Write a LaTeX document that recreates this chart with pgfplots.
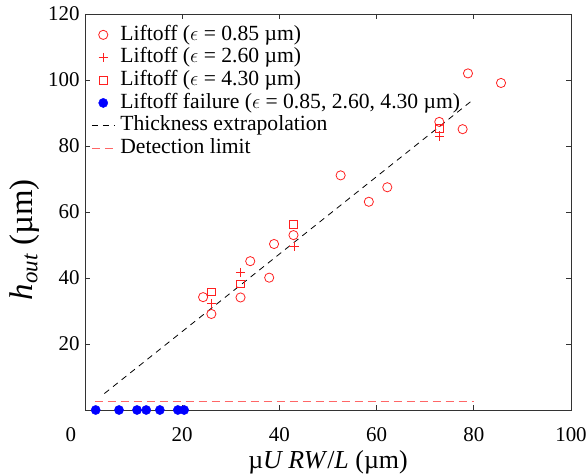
\documentclass[border=0pt]{standalone}
\usepackage{pgfplots}
\pgfplotsset{compat=1.18}
\usepackage{fontspec}
\setmainfont{Liberation Serif}
\definecolor{mred}{HTML}{FF2020}
\definecolor{detred}{rgb}{1,0.4,0.4}
\begin{document}
\begin{tikzpicture}
\begin{axis}[
  name=ax,
  scale only axis,
  width=486bp, height=396bp,
  xmin=0, xmax=100, ymin=0, ymax=120,
  xtick={0,20,...,100},
  xticklabels={\makebox[0pt][r]{0\hspace{9bp}},20,40,60,80,100},
  ytick={20,40,...,120},
  tick align=inside,
  major tick length=5bp,
  axis line style={line width=0.9pt, black!80},
  every tick/.style={line width=0.8pt, black!80},
  /pgf/number format/assume math mode=true,
  tick label style={font=\fontsize{21}{24}\selectfont},
  xticklabel style={inner sep=0.5bp, yshift=-17bp},
  yticklabel style={xshift=-2bp},
  xlabel={µ\textit{U RW}/\textit{L} (µm)},
  ylabel={\textit{h}\raisebox{-0.3ex}{\fontsize{23}{23}\selectfont\textit{out}} (µm)},
  xlabel style={font=\fontsize{26}{28}\selectfont, at={(axis description cs:0.5,-0.1465)}, anchor=base, inner sep=0pt},
  ylabel style={font=\fontsize{33}{34}\selectfont, at={(axis description cs:-0.1235,0.43)}, anchor=center},
  clip=false,
  legend cell align=left,
  legend style={draw=none, fill=none, at={(axis description cs:0.0123,0.975)}, anchor=north west,
    font=\fontsize{21.7}{23}\selectfont, row sep=1.2bp, column sep=4bp, inner sep=0pt,
    nodes={text height=15bp, text depth=4.5bp, inner sep=1bp}},
  legend image code/.code={\draw[mark repeat=2,mark phase=2,#1] plot coordinates {(0cm,0cm)(0.4cm,0cm)(0.8cm,0cm)};},
]
% eps = 0.85
\addplot[only marks, mark=o, mark size=4.6bp, draw=mred, line width=0.8pt, mark options={solid, draw=mred, fill=none}] coordinates {
(78.8,102.0) (85.6,99.1) (77.7,85.1) (72.9,87.3)
(52.6,71.1) (62.2,67.5) (58.4,63.1)
(42.9,53.0) (38.9,50.3) (34.0,45.1) (37.9,40.1) (32.0,34.1)
(24.3,34.2) (26.0,29.1)
};
\addlegendentry{Liftoff ($\epsilon$ = 0.85 µm)}
% eps = 2.60
\addplot[only marks, mark=+, mark size=4.6bp, draw=mred, line width=0.9pt, mark options={solid, draw=mred}] coordinates {
(73.0,83.0) (43.0,49.5) (32.0,41.7) (26.1,32.3)
};
\addlegendentry{Liftoff ($\epsilon$ = 2.60 µm)}
% eps = 4.30
\addplot[only marks, mark=square, mark size=3.9bp, draw=mred, line width=0.8pt, mark options={solid, draw=mred, fill=none}] coordinates {
(73.0,85.4) (42.9,56.2) (32.0,38.2) (26.0,35.8)
};
\addlegendentry{Liftoff ($\epsilon$ = 4.30 µm)}
% failures
\addplot[only marks, mark=*, mark size=4.6bp, draw=blue, mark options={solid, draw=blue, fill=blue}] coordinates {
(2.2,0) (7.0,0) (10.7,0) (12.6,0) (15.4,0) (19.1,0) (20.4,0)
};
\addlegendentry{Liftoff failure ($\epsilon$ = 0.85, 2.60, 4.30 µm)}
% extrapolation
\addplot[draw=black, line width=0.8pt, dash pattern=on 6bp off 5bp, mark=none] coordinates {
(4.0,5.0) (80.0,94.2)
};
\addlegendentry{Thickness extrapolation}
% detection limit
\addplot[draw=detred, line width=1.5pt, dash pattern=on 8bp off 5bp, mark=none] coordinates {
(2.0,2.6) (80.0,2.6)
};
\addlegendentry{Detection limit}
\end{axis}
\pgfresetboundingbox
\path (ax.south west) +(-85bp,-65bp) (ax.north east) +(17bp,14bp);
\end{tikzpicture}
\end{document}
